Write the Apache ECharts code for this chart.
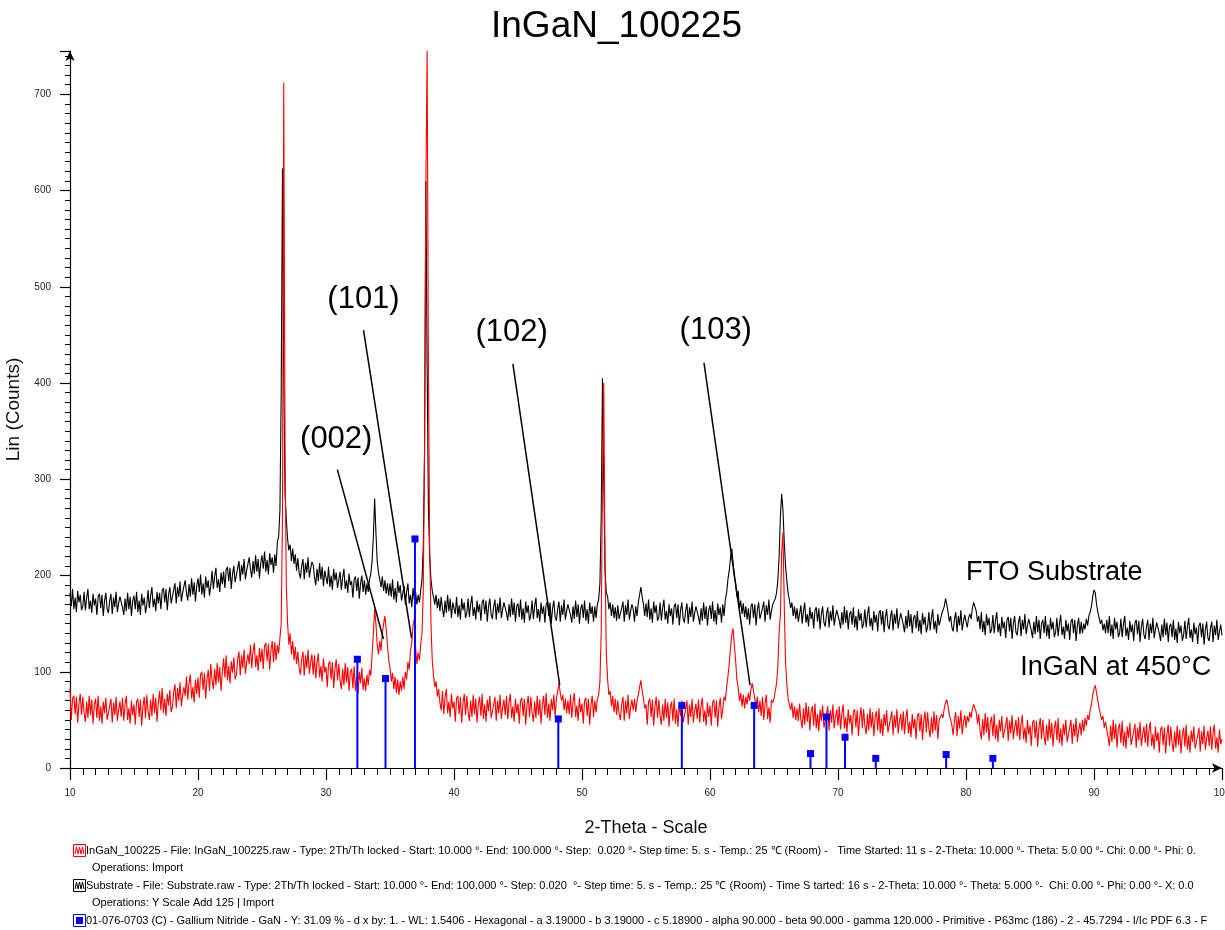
<!DOCTYPE html>
<html>
<head>
<meta charset="utf-8">
<script src="https://cdn.jsdelivr.net/npm/echarts@6/dist/echarts.min.js"></script>
<style>
html,body{margin:0;padding:0;background:#fff;overflow:hidden;}
#main{width:1225px;height:930px;}
</style>
</head>
<body>
<div id="main"></div>
<script>
// ---- scan grid (10 -> 100 deg 2-theta), sampled every 0.1 deg ----
const scanStart = 10;
const scanStep = 0.1;

// FTO substrate (Y Scale Add 125): counts, 10 per degree (10.0 ... 100.0)
const substrateCounts = [
182,168,186,165,177,162,184,172,180,164, 168,183,164,177,186,165,174,161,181,169,
176,159,178,181,166,180,158,174,182,165, 161,174,181,160,177,167,183,162,171,178,
180,167,159,176,163,182,165,178,158,174, 179,165,183,162,174,159,181,169,177,161,
170,185,166,179,188,167,176,163,183,171, 182,165,184,187,172,186,164,180,188,171,
172,185,192,171,188,178,194,173,182,189, 195,182,174,191,178,197,180,193,173,189,
197,183,201,180,192,177,199,187,195,179, 190,205,186,199,208,187,196,183,203,191,
204,187,206,209,194,208,186,202,210,193, 195,208,215,194,211,201,217,196,205,212,
219,206,198,215,202,221,204,217,197,213, 221,207,225,204,216,201,223,211,219,203,
222,210,235,240,268,390,623,410,285,258, 238,226,232,215,228,212,222,205,218,203,
197,210,217,196,213,203,219,198,207,214, 211,198,190,207,194,213,196,209,189,205,
205,191,209,188,200,185,207,195,203,187, 189,204,185,198,207,186,195,182,202,190,
194,177,196,199,184,198,176,192,200,183, 195,180,192,183,196,202,215,240,280,245,
215,203,196,188,199,184,195,181,192,179, 192,178,196,175,187,172,194,182,190,174,
174,189,170,183,192,171,180,167,187,175, 183,170,180,172,185,196,230,330,610,420,
270,220,196,184,178,170,180,166,176,163, 178,165,157,174,161,180,163,176,156,172,
174,160,178,157,169,154,176,164,172,156, 161,176,157,170,179,158,167,154,174,162,
170,153,172,175,160,174,152,168,176,159, 155,168,175,154,171,161,177,156,165,172,
174,161,153,170,157,176,159,172,152,168, 171,157,175,154,166,151,173,161,169,153,
159,174,155,168,177,156,165,152,172,160, 168,151,170,173,158,172,150,166,174,157,
153,166,173,152,169,159,175,154,163,170, 172,159,151,168,155,174,157,170,150,166,
170,156,174,153,165,150,172,160,168,152, 168,156,170,175,192,260,405,300,205,182,
178,165,172,158,170,156,167,153,169,155, 153,166,173,152,169,159,175,154,163,170,
165,152,168,158,172,180,188,178,170,158, 171,157,175,154,166,151,173,161,169,153,
157,172,153,166,175,154,163,150,170,158, 166,149,168,171,156,170,148,164,172,155,
151,164,171,150,167,157,173,152,161,168, 170,157,149,166,153,172,155,168,148,164,
169,155,173,152,164,149,171,159,167,151, 170,158,175,182,196,205,218,228,214,200,
192,178,184,166,174,160,171,157,168,154, 166,149,168,171,156,170,148,164,172,155,
153,166,173,152,169,159,175,154,163,170, 168,176,182,195,220,262,285,268,235,210,
195,182,175,166,172,158,168,155,166,152, 154,169,150,163,172,151,160,147,167,155,
162,145,164,167,152,166,144,160,168,151, 147,160,167,146,163,153,169,148,157,164,
166,153,145,162,149,168,151,164,144,160, 163,149,167,146,158,143,165,153,161,145,
150,165,146,159,168,147,156,143,163,151, 159,142,161,164,149,163,141,157,165,148,
144,157,164,143,160,150,166,145,154,161, 162,149,141,158,145,164,147,160,140,156,
159,145,163,142,154,139,161,149,157,141, 147,162,143,156,165,144,153,140,160,148,
150,160,158,168,176,170,162,152,158,146, 142,155,162,141,158,148,164,143,152,159,
158,146,156,160,155,166,172,174,163,152, 158,144,162,141,153,138,160,148,156,140,
144,159,140,153,162,141,150,137,157,145, 152,135,154,157,142,156,134,150,158,141,
138,151,158,137,154,144,160,139,148,155, 156,143,135,152,139,158,141,154,134,150,
154,140,158,137,149,134,156,144,152,136, 141,156,137,150,159,138,147,134,154,142,
150,133,152,155,140,154,132,148,156,139, 152,140,150,144,155,148,158,162,168,178,
185,182,170,162,156,150,154,143,150,140, 154,140,158,137,149,134,156,144,152,136,
140,155,136,149,158,137,146,133,153,141, 149,132,151,154,139,153,131,147,155,138,
134,147,154,133,150,140,156,135,144,151, 153,140,132,149,136,155,138,151,131,147,
150,136,154,133,145,130,152,140,148,132, 138,153,134,147,156,135,144,131,151,139,
146,129,148,151,136,150,128,144,152,135, 132,145,152,131,148,138,154,133,142,149,
138
];

// InGaN at 450 C: counts, 10 per degree (10.0 ... 100.0)
const inganCounts = [
82,50,72,75,56,74,47,67,77,55, 74,57,48,69,52,75,55,71,46,66,
72,52,75,49,64,46,69,57,73,50, 48,64,72,47,68,55,74,49,61,69,
53,73,49,66,75,50,62,46,70,55, 66,45,69,72,53,71,44,64,74,52,
76,59,50,71,54,77,57,73,48,68, 80,60,83,57,72,54,77,65,81,58,
63,79,87,62,83,70,89,64,76,84, 75,95,71,88,97,72,84,68,92,77,
94,73,97,100,81,99,72,92,102,80, 108,91,82,103,86,109,89,105,80,100,
114,94,117,91,106,88,111,99,115,92, 97,113,121,96,117,104,123,98,110,118,
108,128,104,121,130,105,117,101,125,110, 124,103,127,130,111,129,102,122,132,110,
131,112,128,119,135,150,260,712,330,190, 150,128,140,118,132,112,126,108,121,104,
97,113,121,96,117,104,123,98,110,118, 97,117,93,110,119,94,106,90,114,99,
105,84,108,111,92,110,83,103,113,91, 108,91,82,103,86,109,89,105,80,100,
103,83,106,80,95,77,100,88,104,81, 93,80,97,86,102,96,118,140,165,150,
128,118,132,122,140,150,158,145,128,112, 104,90,99,82,95,78,92,76,90,80,
95,82,100,92,110,102,122,130,148,155, 125,108,120,112,128,140,185,330,600,745,
420,230,150,112,96,84,90,74,82,68, 60,80,56,73,82,57,69,53,77,62,
69,48,72,75,56,74,47,67,77,55, 75,58,49,70,53,76,56,72,47,67,
74,54,77,51,66,48,71,59,75,52, 50,66,74,49,70,57,76,51,63,71,
55,75,51,68,77,52,64,48,72,57, 67,46,70,73,54,72,45,65,75,53,
74,57,48,69,52,75,55,71,46,66, 75,55,78,52,67,49,72,60,76,53,
72,80,88,78,70,76,60,72,57,70, 56,76,52,69,78,53,65,49,73,58,
67,46,70,73,54,72,45,65,75,53, 70,58,72,76,90,140,300,400,210,120,
92,76,80,64,75,58,72,55,70,56, 50,66,74,49,70,57,76,51,63,71,
60,72,58,70,76,84,91,80,72,62, 66,45,69,72,53,71,44,64,74,52,
71,54,45,66,49,72,52,68,43,63, 69,49,72,46,61,43,66,54,70,47,
46,62,70,45,66,53,72,47,59,67, 51,71,47,64,73,48,60,44,68,53,
65,44,68,71,52,70,43,63,73,51, 62,74,70,84,95,108,124,138,145,128,
112,92,84,70,78,64,76,62,74,66, 78,70,82,88,80,72,64,74,58,70,
54,74,50,67,76,51,63,47,71,68, 72,80,88,105,140,160,225,245,170,110,
88,72,74,60,68,52,64,50,62,49, 67,50,41,62,45,68,48,64,39,59,
64,44,67,41,56,38,61,49,65,42, 40,56,64,39,60,47,66,41,53,61,
44,64,40,57,66,41,53,37,61,46, 55,34,58,61,42,60,33,53,63,41,
61,44,35,56,39,62,42,58,33,53, 59,39,62,36,51,33,56,44,60,37,
35,51,59,34,55,42,61,36,48,56, 39,59,35,52,61,36,48,32,56,41,
51,30,54,57,38,56,29,49,59,37, 58,41,32,53,36,59,39,55,30,50,
48,56,52,62,68,71,64,55,50,44, 34,50,58,33,54,41,60,35,47,55,
42,54,48,58,52,62,66,67,58,46, 56,39,30,51,34,57,37,53,28,48,
53,33,56,30,45,27,50,38,54,31, 29,45,53,28,49,36,55,30,42,50,
33,53,29,46,55,30,42,26,50,35, 44,23,47,50,31,49,22,42,52,30,
50,33,24,45,28,51,31,47,22,42, 49,29,52,26,41,23,46,34,50,27,
26,42,50,25,46,33,52,27,39,47, 34,50,38,52,44,55,50,60,66,76,
82,86,78,70,62,56,50,54,42,48, 49,32,23,44,27,50,30,46,21,41,
46,26,49,23,38,20,43,31,47,24, 22,38,46,21,42,29,48,23,35,43,
26,46,22,39,48,23,35,19,43,28, 37,16,40,43,24,42,15,35,45,23,
43,26,17,38,21,44,24,40,15,35, 42,22,45,19,34,16,39,27,43,20,
18,34,42,17,38,25,44,19,31,39, 23,43,19,36,45,20,32,16,40,25,
30
];

// GaN reference pattern 01-076-0703 (stick positions and heights as drawn)
const ganRefTwoTheta = [32.45, 34.65, 36.95, 48.15, 57.8, 63.45, 67.85, 69.1, 70.55, 72.95, 78.45, 82.1];
const ganRefCounts   = [113, 93, 238, 51, 65, 65, 15, 53, 32, 10, 14, 10];

// Miller-index annotations: label centre and leader line (data coordinates)
const hklLabels   = ['(002)', '(101)', '(102)', '(103)'];
const hklLabelPos = [[30.8, 341], [32.93, 487], [44.5, 453], [60.45, 455]];
const hklLineFrom = [[30.89, 310], [32.93, 455], [44.6, 420], [59.53, 421]];
const hklLineTo   = [[34.49, 134], [36.68, 135], [48.26, 86], [63.13, 86]];

// series name labels (data coordinates of the text centre)
const seriesLabels   = ['FTO Substrate', 'InGaN at 450°C'];
const seriesLabelPos = [[86.9, 203], [91.7, 104]];

// axis ticks
const xTicks = { min: 10, max: 100, interval: 10 };
const yTicks = { min: 0, max: 745, interval: 100 };

// info lines under the chart
const infoLines = [
  'InGaN_100225 - File: InGaN_100225.raw - Type: 2Th/Th locked - Start: 10.000 °- End: 100.000 °- Step:  0.020 °- Step time: 5. s - Temp.: 25 ℃ (Room) -   Time Started: 11 s - 2-Theta: 10.000 °- Theta: 5.0 00 °- Chi: 0.00 °- Phi: 0.',
  'Operations: Import',
  'Substrate - File: Substrate.raw - Type: 2Th/Th locked - Start: 10.000 °- End: 100.000 °- Step: 0.020  °- Step time: 5. s - Temp.: 25 ℃ (Room) - Time S tarted: 16 s - 2-Theta: 10.000 °- Theta: 5.000 °-  Chi: 0.00 °- Phi: 0.00 °- X: 0.0',
  'Operations: Y Scale Add 125 | Import',
  '01-076-0703 (C) - Gallium Nitride - GaN - Y: 31.09 % - d x by: 1. - WL: 1.5406 - Hexagonal - a 3.19000 - b 3.19000 - c 5.18900 - alpha 90.000 - beta 90.000 - gamma 120.000 - Primitive - P63mc (186) - 2 - 45.7294 - I/Ic PDF 6.3 - F'
];

const FONT = '"Liberation Sans", Arial, sans-serif';

function toPairs(arr) {
  return arr.map((c, i) => [+(scanStart + scanStep * i).toFixed(2), c]);
}

const chart = echarts.init(document.getElementById('main'), null, { renderer: 'canvas' });

const option = {
  animation: false,
  backgroundColor: '#fff',
  title: {
    text: 'InGaN_100225', left: 486, top: 3,
    textStyle: { fontSize: 37, fontWeight: 'normal', color: '#000', fontFamily: FONT }
  },
  grid: { left: 70, right: 3, top: 51, bottom: 162, containLabel: false, outerBoundsMode: 'none' },
  xAxis: {
    type: 'value', min: xTicks.min, max: xTicks.max, interval: xTicks.interval,
    name: '2-Theta - Scale', nameLocation: 'middle', nameGap: 51,
    nameTextStyle: { fontSize: 18, color: '#111', fontFamily: FONT },
    axisLine: { show: true, symbol: ['none', 'arrow'], symbolSize: [7, 10], lineStyle: { color: '#000', width: 1.2 } },
    axisTick: { show: true, length: 12, lineStyle: { color: '#000', width: 1.2 } },
    minorTick: { show: true, splitNumber: 10, length: 7, lineStyle: { color: '#000', width: 1 } },
    axisLabel: { fontSize: 10, color: '#222', margin: 20, fontFamily: FONT },
    splitLine: { show: false }, minorSplitLine: { show: false }
  },
  yAxis: {
    type: 'value', min: yTicks.min, max: yTicks.max, interval: yTicks.interval,
    name: 'Lin (Counts)', nameLocation: 'middle', nameGap: 42, nameRotate: 90,
    nameTextStyle: { fontSize: 19, color: '#111', fontFamily: FONT },
    axisLine: { show: true, symbol: ['none', 'arrow'], symbolSize: [7, 10], lineStyle: { color: '#000', width: 1.2 } },
    axisTick: { show: true, length: 10, lineStyle: { color: '#000', width: 1.2 } },
    minorTick: { show: true, splitNumber: 10, length: 5, lineStyle: { color: '#000', width: 1 } },
    axisLabel: { fontSize: 10, color: '#222', margin: 19, fontFamily: FONT, showMaxLabel: false,
      formatter: v => (v % 100 === 0 ? String(v) : '') },
    splitLine: { show: false }, minorSplitLine: { show: false }
  },
  series: [
    {
      name: 'Substrate', type: 'line', data: toPairs(substrateCounts),
      showSymbol: false, symbol: 'none', clip: true,
      lineStyle: { color: '#000', width: 1.1 }, z: 2
    },
    {
      name: 'InGaN_100225', type: 'line', data: toPairs(inganCounts),
      showSymbol: false, symbol: 'none', clip: true,
      lineStyle: { color: '#ff0000', width: 1.1 }, z: 3
    },
    {
      name: '01-076-0703 (C) GaN', type: 'custom', z: 4,
      data: ganRefTwoTheta.map((x, i) => [x, ganRefCounts[i]]),
      renderItem: function (params, api) {
        const top = api.coord([api.value(0), api.value(1)]);
        const base = api.coord([api.value(0), 0]);
        return {
          type: 'group',
          children: [
            { type: 'line', shape: { x1: top[0], y1: top[1], x2: base[0], y2: base[1] }, style: { stroke: '#0000ff', lineWidth: 2 } },
            { type: 'rect', shape: { x: top[0] - 3.5, y: top[1] - 3.5, width: 7, height: 7 }, style: { fill: '#0000ff' } }
          ]
        };
      }
    },
    {
      name: 'hkl-lines', type: 'lines', coordinateSystem: 'cartesian2d', z: 5,
      lineStyle: { color: '#000', width: 1.5, opacity: 1 },
      data: hklLineFrom.map((p, i) => ({ coords: [p, hklLineTo[i]] }))
    }
  ]
};
chart.setOption(option);

// text annotations placed through the chart's own coordinate conversion
const graphics = [];
hklLabels.forEach((t, i) => {
  const p = chart.convertToPixel({ gridIndex: 0 }, hklLabelPos[i]);
  graphics.push({ type: 'text', x: p[0], y: p[1], z: 10,
    style: { text: t, font: '31px ' + FONT, fill: '#000', align: 'center', verticalAlign: 'middle' } });
});
seriesLabels.forEach((t, i) => {
  const p = chart.convertToPixel({ gridIndex: 0 }, seriesLabelPos[i]);
  graphics.push({ type: 'text', x: p[0], y: p[1], z: 10,
    style: { text: t, font: '27px ' + FONT, fill: '#000', align: 'center', verticalAlign: 'middle' } });
});

// info lines and their icons below the plot
const infoY = [851, 868, 886, 903, 921];
const infoX = [86, 92, 86, 92, 86];
infoLines.forEach((t, i) => {
  graphics.push({ type: 'text', x: infoX[i], y: infoY[i],
    style: { text: t, font: '11px ' + FONT, fill: '#000', verticalAlign: 'middle' } });
});
function waveIcon(y, color) {
  return [
    { type: 'rect', shape: { x: 73.5, y: y - 6.5, width: 12, height: 12 }, style: { fill: '#fff', stroke: color, lineWidth: 1 } },
    { type: 'polyline', shape: { points: [[75, y + 3], [76.5, y - 4], [78, y + 3], [79.5, y - 4], [81, y + 3], [82.5, y - 4], [84, y + 3]] }, style: { stroke: color, fill: null, lineWidth: 1 } }
  ];
}
graphics.push(...waveIcon(infoY[0], '#ff0000'));
graphics.push(...waveIcon(infoY[2], '#000000'));
graphics.push({ type: 'rect', shape: { x: 73.5, y: infoY[4] - 6.5, width: 12, height: 12 }, style: { fill: '#fff', stroke: '#0000ff', lineWidth: 1 } });
graphics.push({ type: 'rect', shape: { x: 76, y: infoY[4] - 4, width: 7, height: 7 }, style: { fill: '#0000ff' } });

chart.setOption({ graphic: graphics });
</script>
</body>
</html>
